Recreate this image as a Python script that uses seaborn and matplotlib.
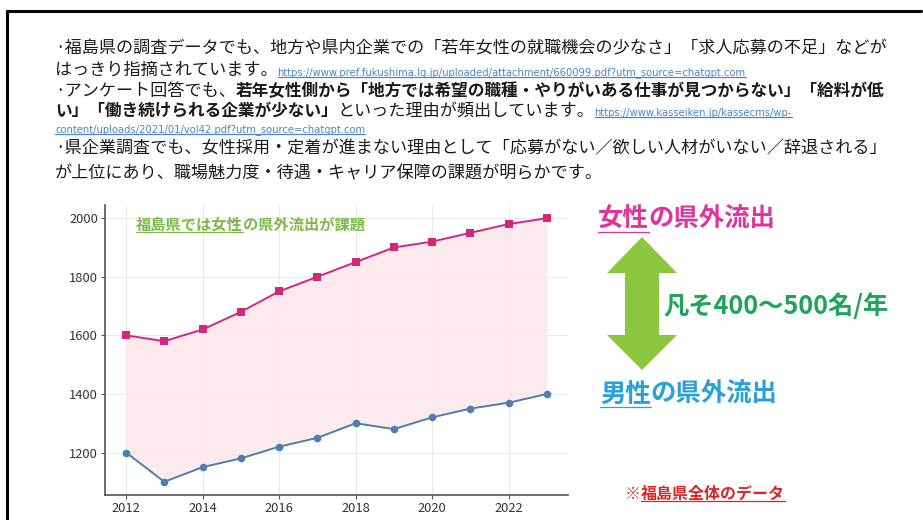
import matplotlib
matplotlib.use("Agg")
import matplotlib.pyplot as plt
import seaborn as sns
import pandas as pd
from matplotlib.lines import Line2D
from matplotlib.patches import Polygon

# ---------------- data ----------------
years = [2012, 2013, 2014, 2015, 2016, 2017, 2018, 2019, 2020, 2021, 2022, 2023]
female_outflow = [1600, 1580, 1620, 1680, 1750, 1800, 1850, 1900, 1920, 1950, 1980, 2000]
male_outflow = [1200, 1100, 1150, 1180, 1220, 1250, 1300, 1280, 1320, 1350, 1370, 1400]
y_ticks = [1200, 1400, 1600, 1800, 2000]
x_ticks = [2012, 2014, 2016, 2018, 2020, 2022]

sns.set_theme(style="ticks")
plt.rcParams['font.family'] = ['Noto Sans CJK JP', 'DejaVu Sans']

W, H = 923, 520
fig = plt.figure(figsize=(W / 100, H / 100), dpi=100)
fig.patch.set_facecolor("white")


def fx(x):
    return x / W


def fy(y):
    return 1 - y / H


renderer = fig.canvas.get_renderer()


def put_parts(parts, x, y_base):
    """Place consecutive text pieces on a baseline (pixel coords, y from top)."""
    cur = x
    for txt, kw in parts:
        underline = kw.pop("underline", False)
        t = fig.text(fx(cur), fy(y_base), txt, va="baseline", ha="left", **kw)
        bb = t.get_window_extent(renderer)
        if underline:
            uy = bb.y0 + 1.0
            fig.add_artist(Line2D([bb.x0 / W, bb.x1 / W], [uy / H, uy / H],
                                  transform=fig.transFigure, color=kw.get("color", "k"), lw=0.9))
        cur = bb.x1
    return cur


# ---------------- frame ----------------
fig.add_artist(Line2D([fx(7), fx(921)], [fy(11), fy(11)], transform=fig.transFigure, color="black", lw=2.2))
fig.add_artist(Line2D([fx(7), fx(7)], [fy(11), fy(520)], transform=fig.transFigure, color="black", lw=2.2))

# ---------------- top text ----------------
TXT = "#1a1a1a"
URL = "#4a86c5"
FS = 12.3
UFS = 7.2
put_parts([("·福島県の調査データでも、地方や県内企業での「若年女性の就職機会の少なさ」「求人応募の不足」などが",
            dict(fontsize=FS, color=TXT))], 55, 53)
put_parts([("はっきり指摘されています。", dict(fontsize=FS, color=TXT)),
           ("https://www.pref.fukushima.lg.jp/uploaded/attachment/660099.pdf?utm_source=chatgpt.com",
            dict(fontsize=UFS, color=URL, underline=True, family="DejaVu Sans"))], 55, 75)
put_parts([("·アンケート回答でも、", dict(fontsize=FS, color=TXT)),
           ("若年女性側から「地方では希望の職種・やりがいある仕事が見つからない」「給料が低",
            dict(fontsize=12.0, color=TXT, fontweight="bold"))], 55, 96)
put_parts([("い」「働き続けられる企業が少ない」", dict(fontsize=12.0, color=TXT, fontweight="bold")),
           ("といった理由が頻出しています。", dict(fontsize=FS, color=TXT)),
           ("https://www.kasseiken.jp/kassecms/wp-",
            dict(fontsize=UFS, color=URL, underline=True, family="DejaVu Sans"))], 55, 116)
put_parts([("content/uploads/2021/01/vol42.pdf?utm_source=chatgpt.com",
            dict(fontsize=UFS, color=URL, underline=True, family="DejaVu Sans"))], 55, 132)
put_parts([("·県企業調査でも、女性採用・定着が進まない理由として「応募がない／欲しい人材がいない／辞退される」",
            dict(fontsize=FS, color=TXT))], 55, 154)
put_parts([("が上位にあり、職場魅力度・待遇・キャリア保障の課題が明らかです。",
            dict(fontsize=FS, color=TXT))], 55, 178)

# ---------------- chart ----------------
ax = fig.add_axes([fx(105), fy(495), fx(568) - fx(105), fy(205) - fy(495)])
df = pd.DataFrame({
    "year": years * 2,
    "value": female_outflow + male_outflow,
    "sex": ["female"] * len(years) + ["male"] * len(years),
})
pal = {"female": "#d6267c", "male": "#4d7fae"}
ax.fill_between(years, male_outflow, female_outflow, color="#fde8ec", alpha=0.9, lw=0, zorder=1)
sns.lineplot(data=df, x="year", y="value", hue="sex", style="sex", palette=pal,
             markers={"female": "s", "male": "o"}, dashes=False, markersize=5.5,
             markeredgewidth=0, lw=1.4, legend=False, ax=ax, zorder=3)
ax.set_xticks(x_ticks)
ax.set_yticks(y_ticks)
ax.set_xlabel("")
ax.set_ylabel("")
ax.grid(True, color="#ebebeb", lw=0.8, zorder=0)
ax.set_axisbelow(True)
for s in ["top", "right"]:
    ax.spines[s].set_visible(False)
for s in ["left", "bottom"]:
    ax.spines[s].set_color("#555555")
    ax.spines[s].set_linewidth(1.2)
ax.tick_params(axis="both", labelsize=9.3, colors="#555555", labelcolor="#333333", length=3, width=0.8, pad=2)
ax.set_facecolor("white")
ax.margins(x=0.05, y=0.05)

# in-chart annotation
put_parts([("福島県では女性", dict(fontsize=11, color="#7cb84a", fontweight="bold", underline=True)),
           ("の県外流出が課題", dict(fontsize=11, color="#7cb84a", fontweight="bold"))], 136, 230)

# right-side annotations
put_parts([("女性", dict(fontsize=18.3, color="#e0349c", fontweight="bold", underline=True)),
           ("の県外流出", dict(fontsize=18.3, color="#e0349c", fontweight="bold"))], 598, 227)
put_parts([("男性", dict(fontsize=18.3, color="#2aa0d8", fontweight="bold", underline=True)),
           ("の県外流出", dict(fontsize=18.3, color="#2aa0d8", fontweight="bold"))], 600, 402)
put_parts([("凡そ400～500名/年", dict(fontsize=18.2, color="#1ea55a", fontweight="bold"))], 663, 314)
put_parts([("※", dict(fontsize=11.5, color="#e02424", fontweight="bold")),
           ("福島県全体のデータ", dict(fontsize=11.5, color="#e02424", fontweight="bold", underline=True))], 625, 499)

# green double arrow
cx = 642
pts = [(cx, 237), (677, 273), (659, 273), (659, 335), (677, 335), (cx, 370),
       (607, 335), (625, 335), (625, 273), (607, 273)]
fig.add_artist(Polygon([(fx(px), fy(py)) for px, py in pts], closed=True,
                       transform=fig.transFigure, facecolor="#8dc63f", edgecolor="none"))

fig.savefig("out.png", dpi=100)
